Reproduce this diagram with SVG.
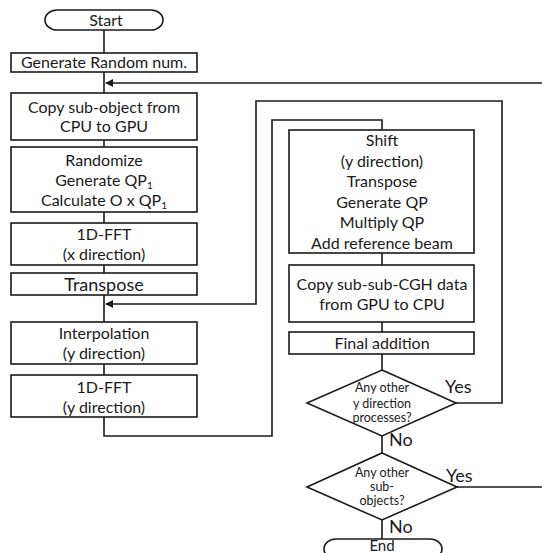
<svg xmlns="http://www.w3.org/2000/svg" width="542" height="553" viewBox="0 0 542 553">
  <style>
    .box { fill: #ffffff; stroke: #1a1a1a; stroke-width: 1.6; }
    .wire { fill: none; stroke: #1a1a1a; stroke-width: 1.6; }
    text { font-family: Lato, "Open Sans", "Liberation Sans", sans-serif; fill: #1a1a1a; text-anchor: middle; }
    .t { font-size: 16px; }
    .big { font-size: 18px; }
    .small { font-size: 12.5px; }
    .lbl { font-size: 18px; text-anchor: start; }
    .sub { font-size: 10px; }
  </style>
  <defs>
    <marker id="arrow" viewBox="0 0 10 10" refX="9" refY="5" markerWidth="5" markerHeight="5" orient="auto">
      <path d="M0,0 L10,5 L0,10 z" fill="#1a1a1a"/>
    </marker>
  </defs>

  <rect width="542" height="553" fill="#ffffff"/>

  <g id="connectors">
    <line class="wire" x1="104" y1="30" x2="104" y2="53"/>
    <line class="wire" x1="104" y1="72" x2="104" y2="93"/>
    <line class="wire" x1="104" y1="140" x2="104" y2="147"/>
    <line class="wire" x1="104" y1="212" x2="104" y2="223"/>
    <line class="wire" x1="104" y1="265" x2="104" y2="273"/>
    <line class="wire" x1="104" y1="295" x2="104" y2="322"/>
    <line class="wire" x1="104" y1="364" x2="104" y2="375"/>
    <!-- loop back from "Any other sub-objects?" -->
    <polyline class="wire" points="542,83 106,83" marker-end="url(#arrow)"/>
    <!-- y-direction loop back to interpolation -->
    <polyline class="wire" points="456,403 502,403 502,101 256,101 256,304 106,304" marker-end="url(#arrow)"/>
    <!-- from 1D-FFT (y) into the right column -->
    <polyline class="wire" points="104,417 104,436 272,436 272,120 382,120 382,130"/>
    <line class="wire" x1="382" y1="253" x2="382" y2="265"/>
    <line class="wire" x1="382" y1="322" x2="382" y2="332"/>
    <line class="wire" x1="382" y1="354" x2="382" y2="370"/>
    <line class="wire" x1="382" y1="436" x2="382" y2="453"/>
    <line class="wire" x1="457" y1="487" x2="542" y2="487"/>
    <line class="wire" x1="382" y1="520" x2="382" y2="539"/>
  </g>

  <g id="start">
    <rect class="box" x="45" y="10" width="118" height="20" rx="12" ry="10"/>
    <text class="t" x="106" y="26">Start</text>
  </g>

  <g id="random">
    <rect class="box" x="11" y="53" width="186" height="19"/>
    <text class="t" x="104" y="68">Generate Random num.</text>
  </g>

  <g id="copy-in">
    <rect class="box" x="11" y="93" width="186" height="47"/>
    <text class="t" x="104" y="113">Copy sub-object from</text>
    <text class="t" x="104" y="132">CPU to GPU</text>
  </g>

  <g id="randomize">
    <rect class="box" x="11" y="147" width="186" height="65"/>
    <text class="t" x="104" y="166">Randomize</text>
    <text class="t" x="104" y="186">Generate QP<tspan class="sub" dy="3">1</tspan></text>
    <text class="t" x="104" y="206">Calculate O x QP<tspan class="sub" dy="3">1</tspan></text>
  </g>

  <g id="fft-x">
    <rect class="box" x="11" y="223" width="186" height="42"/>
    <text class="t" x="104" y="240">1D-FFT</text>
    <text class="t" x="104" y="260">(x direction)</text>
  </g>

  <g id="transpose">
    <rect class="box" x="11" y="273" width="186" height="22"/>
    <text class="big" x="104" y="291">Transpose</text>
  </g>

  <g id="interpolation">
    <rect class="box" x="11" y="322" width="186" height="42"/>
    <text class="t" x="104" y="339">Interpolation</text>
    <text class="t" x="104" y="359">(y direction)</text>
  </g>

  <g id="fft-y">
    <rect class="box" x="11" y="375" width="186" height="42"/>
    <text class="t" x="104" y="393">1D-FFT</text>
    <text class="t" x="104" y="413">(y direction)</text>
  </g>

  <g id="shift">
    <rect class="box" x="289" y="130" width="185" height="123"/>
    <text class="t" x="382" y="146">Shift</text>
    <text class="t" x="382" y="167">(y direction)</text>
    <text class="t" x="382" y="187">Transpose</text>
    <text class="t" x="382" y="208">Generate  QP</text>
    <text class="t" x="382" y="228">Multiply  QP</text>
    <text class="t" x="382" y="249">Add reference beam</text>
  </g>

  <g id="copy-out">
    <rect class="box" x="289" y="265" width="185" height="57"/>
    <text class="t" x="382" y="290">Copy sub-sub-CGH data</text>
    <text class="t" x="382" y="310">from GPU to CPU</text>
  </g>

  <g id="final">
    <rect class="box" x="289" y="332" width="185" height="22"/>
    <text class="t" x="382" y="349">Final addition</text>
  </g>

  <g id="decision-y">
    <polygon class="box" points="382,370 456,403 382,436 307,403"/>
    <text class="small" x="382" y="392">Any other</text>
    <text class="small" x="382" y="408">y direction</text>
    <text class="small" x="382" y="422">processes?</text>
    <text class="lbl" x="445" y="393">Yes</text>
    <text class="lbl" x="389" y="446">No</text>
  </g>

  <g id="decision-obj">
    <polygon class="box" points="382,453 457,487 382,520 307,487"/>
    <text class="small" x="382" y="477">Any other</text>
    <text class="small" x="382" y="491">sub-</text>
    <text class="small" x="382" y="505">objects?</text>
    <text class="lbl" x="446" y="482">Yes</text>
    <text class="lbl" x="389" y="533">No</text>
  </g>

  <g id="end">
    <rect class="box" x="324" y="539" width="118" height="20" rx="12" ry="10"/>
    <text class="t" x="382" y="551" style="font-size:15px">End</text>
  </g>
</svg>
